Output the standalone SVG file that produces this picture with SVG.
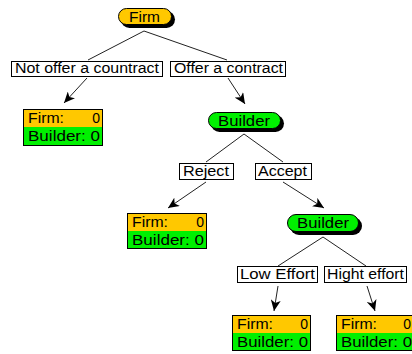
<svg xmlns="http://www.w3.org/2000/svg" width="412" height="354" viewBox="0 0 412 354">
<defs>
<style>
text{font-family:"Liberation Sans",Arial,sans-serif;font-size:14px;fill:#000}
.lbl{fill:#fff;stroke:#000;stroke-width:1}
.edge{stroke:#222;stroke-width:1;fill:none}
.shadow{fill:#000}
.pillF{fill:#FFC800;stroke:#000;stroke-width:1}
.pillB{fill:#00F000;stroke:#000;stroke-width:1}
.orange{fill:#FFC800}
.green{fill:#00F000}
.box{fill:none;stroke:#000;stroke-width:1}
</style>
<marker id="ah" markerWidth="12" markerHeight="10" refX="11" refY="5" orient="auto" markerUnits="userSpaceOnUse">
<path d="M0,0 L11,5 L0,10 L3,5 z" fill="#000"/>
</marker>
</defs>
<rect width="412" height="354" fill="#fff"/>
<g id="connectors">
<line class="edge" x1="144" y1="31" x2="88" y2="60"/>
<line class="edge" x1="144" y1="31" x2="227" y2="60"/>
<line class="edge" x1="87" y1="78" x2="64" y2="103" marker-end="url(#ah)"/>
<line class="edge" x1="228" y1="78" x2="245" y2="104" marker-end="url(#ah)"/>
<line class="edge" x1="244" y1="134" x2="206" y2="162"/>
<line class="edge" x1="244" y1="134" x2="283" y2="162"/>
<line class="edge" x1="206" y1="182" x2="168" y2="208" marker-end="url(#ah)"/>
<line class="edge" x1="283" y1="182" x2="324" y2="208" marker-end="url(#ah)"/>
<line class="edge" x1="323" y1="237" x2="278" y2="266"/>
<line class="edge" x1="323" y1="237" x2="366" y2="266"/>
<line class="edge" x1="278" y1="286" x2="274" y2="311" marker-end="url(#ah)"/>
<line class="edge" x1="367" y1="286" x2="375" y2="311" marker-end="url(#ah)"/>
</g>
<g id="firm">
<rect class="shadow" x="121" y="11" width="54" height="17" rx="8.5"/>
<rect class="pillF" x="118.5" y="8.5" width="53" height="16" rx="8"/>
<text x="129" y="22" textLength="31" lengthAdjust="spacingAndGlyphs">Firm</text>
</g>
<g id="lbl-not-offer">
<rect class="lbl" x="11.5" y="61.5" width="151" height="15"/>
<text x="15" y="73" textLength="144" lengthAdjust="spacingAndGlyphs">Not offer a countract</text>
</g>
<g id="lbl-offer">
<rect class="lbl" x="170.5" y="61.5" width="115" height="15"/>
<text x="174" y="73" textLength="109" lengthAdjust="spacingAndGlyphs">Offer a contract</text>
</g>
<g id="payoff1">
<rect class="orange" x="24" y="109" width="79" height="18"/>
<rect class="green" x="24" y="127" width="79" height="19"/>
<rect class="box" x="23.5" y="109.5" width="79" height="36"/>
<text x="28" y="123" textLength="36" lengthAdjust="spacingAndGlyphs">Firm:</text>
<text x="100" y="123" text-anchor="end">0</text>
<text x="28" y="141" textLength="72" lengthAdjust="spacingAndGlyphs">Builder: 0</text>
</g>
<g id="builder1">
<rect class="shadow" x="211" y="115" width="73" height="17" rx="8.5"/>
<rect class="pillB" x="208.5" y="112.5" width="72" height="16" rx="8"/>
<text x="218" y="126" textLength="52" lengthAdjust="spacingAndGlyphs">Builder</text>
</g>
<g id="lbl-reject">
<rect class="lbl" x="179.5" y="163.5" width="54" height="16"/>
<text x="183" y="176" textLength="46" lengthAdjust="spacingAndGlyphs">Reject</text>
</g>
<g id="lbl-accept">
<rect class="lbl" x="255.5" y="163.5" width="56" height="16"/>
<text x="258" y="176" textLength="49" lengthAdjust="spacingAndGlyphs">Accept</text>
</g>
<g id="payoff2">
<rect class="orange" x="128" y="213" width="79" height="18"/>
<rect class="green" x="128" y="231" width="79" height="18"/>
<rect class="box" x="127.5" y="213.5" width="79" height="35"/>
<text x="132" y="227" textLength="36" lengthAdjust="spacingAndGlyphs">Firm:</text>
<text x="204" y="227" text-anchor="end">0</text>
<text x="132" y="245" textLength="72" lengthAdjust="spacingAndGlyphs">Builder: 0</text>
</g>
<g id="builder2">
<rect class="shadow" x="290" y="217" width="72" height="18" rx="9"/>
<rect class="pillB" x="287.5" y="214.5" width="71" height="17" rx="8.5"/>
<text x="297" y="228" textLength="52" lengthAdjust="spacingAndGlyphs">Builder</text>
</g>
<g id="lbl-low">
<rect class="lbl" x="237.5" y="266.5" width="80" height="16"/>
<text x="240" y="279" textLength="75" lengthAdjust="spacingAndGlyphs">Low Effort</text>
</g>
<g id="lbl-high">
<rect class="lbl" x="324.5" y="266.5" width="82" height="16"/>
<text x="327" y="279" textLength="77" lengthAdjust="spacingAndGlyphs">Hight effort</text>
</g>
<g id="payoff3">
<rect class="orange" x="233" y="315" width="78" height="18"/>
<rect class="green" x="233" y="333" width="78" height="18"/>
<rect class="box" x="232.5" y="315.5" width="78" height="35"/>
<text x="237" y="329" textLength="36" lengthAdjust="spacingAndGlyphs">Firm:</text>
<text x="308" y="329" text-anchor="end">0</text>
<text x="237" y="347" textLength="71" lengthAdjust="spacingAndGlyphs">Builder: 0</text>
</g>
<g id="payoff4">
<rect class="orange" x="337" y="315" width="76" height="18"/>
<rect class="green" x="337" y="333" width="76" height="18"/>
<rect class="box" x="336.5" y="315.5" width="78" height="35"/>
<text x="341" y="329" textLength="36" lengthAdjust="spacingAndGlyphs">Firm:</text>
<text x="411" y="329" text-anchor="end">0</text>
<text x="341" y="347" textLength="71" lengthAdjust="spacingAndGlyphs">Builder: 0</text>
</g>
</svg>
